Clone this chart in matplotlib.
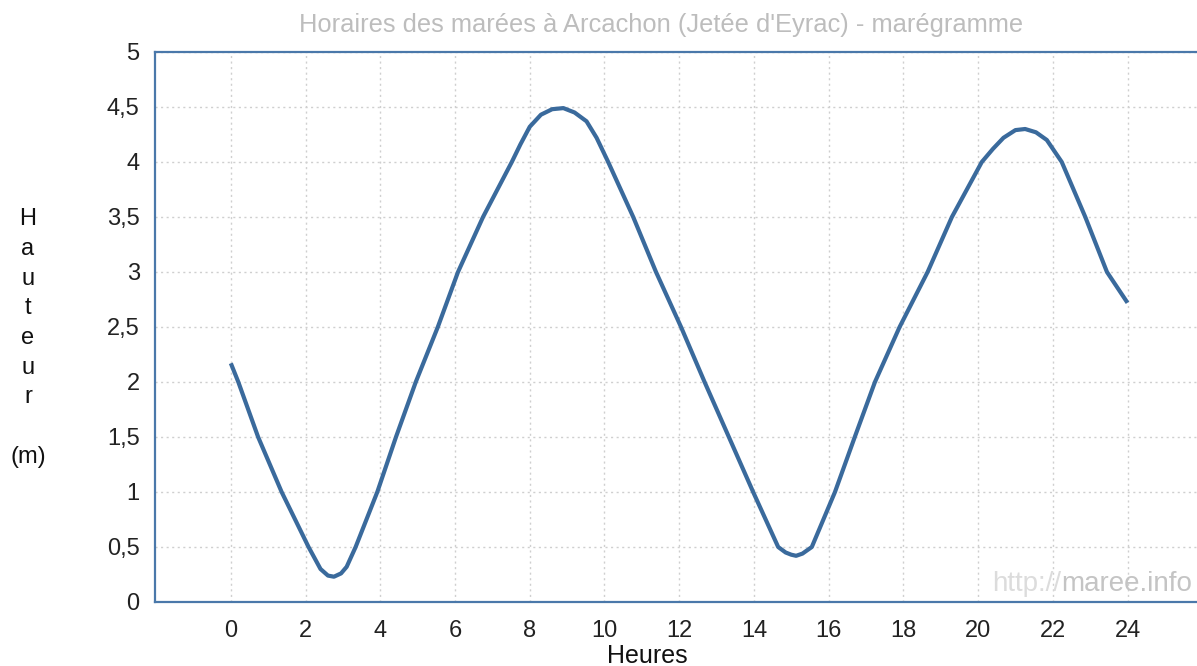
import matplotlib
matplotlib.use('Agg')
import numpy as np
from matplotlib import pyplot

# tide curve (hours, metres)
HOURS   = [0.0, 0.2, 0.73, 1.36, 2.08, 2.4, 2.6, 2.76, 2.95, 3.1, 3.34, 3.92, 4.42, 4.95,
           5.54, 6.08, 6.75, 7.52, 7.75, 8.0, 8.3, 8.6, 8.9, 9.2, 9.52, 9.79, 10.1,
           10.77, 11.38, 12.05, 12.68, 13.33, 13.98, 14.65, 14.85, 15.0, 15.13,
           15.3, 15.55, 16.17, 16.7, 17.24, 17.9, 18.65, 19.3, 20.1, 20.4, 20.68,
           21.0, 21.26, 21.55, 21.84, 22.24, 22.87, 23.45, 24.0]
HEIGHTS = [2.17, 2.0, 1.5, 1.0, 0.5, 0.30, 0.24, 0.23, 0.26, 0.32, 0.5, 1.0, 1.5, 2.0,
           2.5, 3.0, 3.5, 4.0, 4.16, 4.32, 4.43, 4.48, 4.49, 4.45, 4.37, 4.22, 4.0,
           3.5, 3.0, 2.5, 2.0, 1.5, 1.0, 0.5, 0.45, 0.43, 0.42,
           0.44, 0.5, 1.0, 1.5, 2.0, 2.5, 3.0, 3.5, 4.0, 4.12, 4.22,
           4.29, 4.30, 4.27, 4.2, 4.0, 3.5, 3.0, 2.72]
XTICKS  = list(range(0, 25, 2))
YTICKS  = [0, 0.5, 1, 1.5, 2, 2.5, 3, 3.5, 4, 4.5, 5]
YLABELS = ['0', '0,5', '1', '1,5', '2', '2,5', '3', '3,5', '4', '4,5', '5']

TITLE   = "Horaires des marées à Arcachon (Jetée d'Eyrac) - marégramme"

pyplot.rcParams['font.family'] = ['Liberation Sans', 'DejaVu Sans']

W, H = 1197, 666
fig = pyplot.figure(figsize=(W/100., H/100.), dpi=100)
ax  = fig.add_axes([155./W, 1-602./H, 1-155./W, 550./H])

ax.plot(HOURS, HEIGHTS, color='#3a6a9c', lw=3.0, solid_capstyle='butt', solid_joinstyle='round', zorder=3)

ax.set_xlim(-2.03, 25.86)
ax.set_ylim(0, 5)
ax.set_xticks(XTICKS)
ax.set_yticks(YTICKS)
ax.set_yticklabels(YLABELS)
ax.tick_params(length=0, labelsize=17, colors='#222222')
ax.tick_params(axis='x', pad=13)
ax.tick_params(axis='y', pad=11)
ax.grid(True, color='#cfcfcf', linestyle=(0, (1.5, 2.5)), lw=1.0)
ax.set_axisbelow(True)

for s in ['left', 'top', 'bottom']:
	ax.spines[s].set_color('#4a78aa')
	ax.spines[s].set_linewidth(1.6)
ax.spines['right'].set_visible(False)

fig.text(661./W, 1-25./H, TITLE, ha='center', va='center', size=18.4, color='#bdbdbd')
fig.text(647./W, 1-656./H, 'Heures', ha='center', va='center', size=18, color='#111111')
fig.text(28./W, 1-338./H, 'H\na\nu\nt\ne\nu\nr\n\n(m)', ha='center', va='center',
	multialignment='center', size=17, color='#111111', linespacing=1.45)

### watermark in two greys: place 'http://' against the left edge of 'maree.info'
wm = fig.text(1192./W, 1-584./H, 'maree.info', ha='right', va='center', size=20, color='#c4c4c4')
fig.canvas.draw()
bb = wm.get_window_extent()
fig.text(bb.x0/W, 1-584./H, 'http://', ha='right', va='center', size=20, color='#dcdcdc')

fig.savefig('out.png', dpi=100)
